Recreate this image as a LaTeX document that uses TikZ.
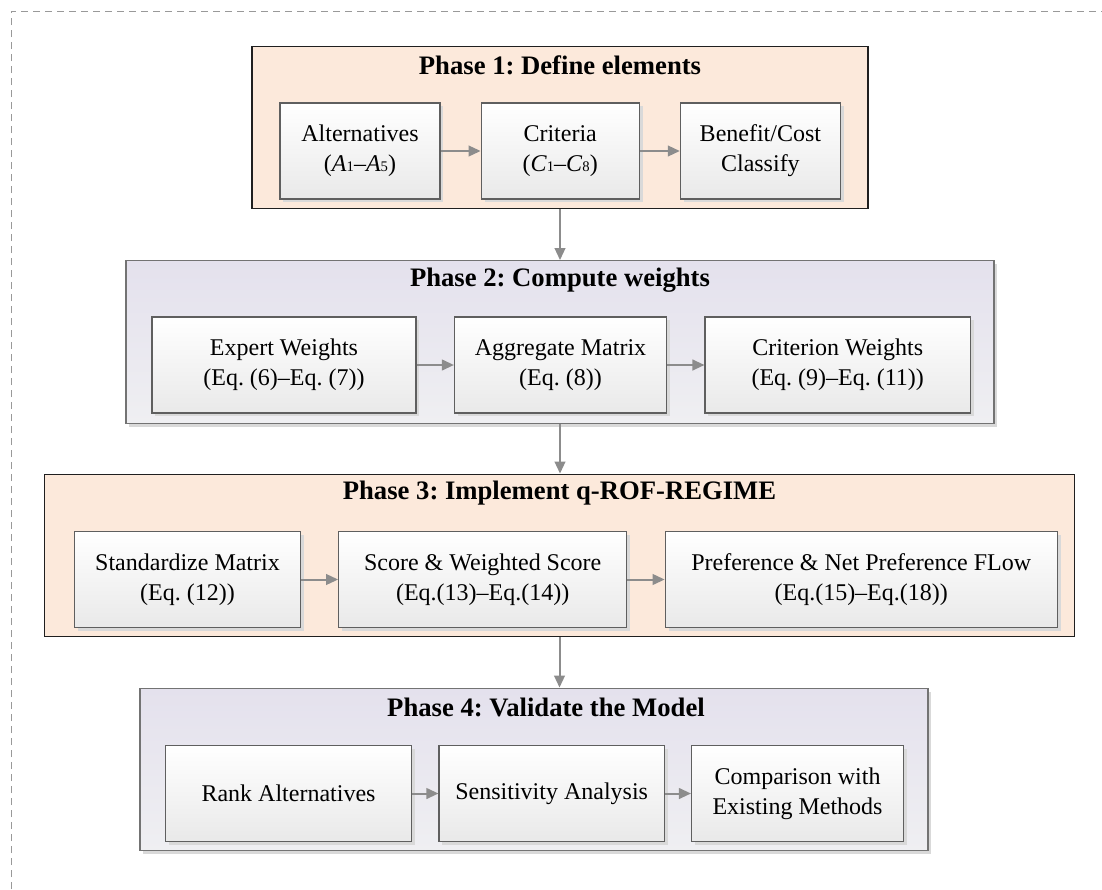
\documentclass[tikz,border=0pt]{standalone}
\usepackage{fontspec}
\setmainfont{Liberation Serif}
\usetikzlibrary{positioning,shadows,arrows.meta}
\frenchspacing

\definecolor{peach}{RGB}{252,233,219}
\definecolor{lavtop}{RGB}{228,225,237}
\definecolor{lavbot}{RGB}{239,239,242}
\definecolor{boxbot}{RGB}{233,233,233}
\definecolor{boxline}{RGB}{95,95,95}
\definecolor{shade}{RGB}{217,217,217}
\definecolor{arrowgray}{RGB}{140,140,140}
\newcommand{\idx}[1]{{\fontsize{11}{11}\selectfont #1}}

\tikzstyle{block} = [rectangle, minimum height=72pt, align=center, draw=boxline,
line width=0.9pt, top color=white, bottom color=boxbot,
drop shadow={shadow xshift=2.5pt, shadow yshift=-2.5pt, fill=shade, opacity=1},
font=\fontsize{18}{22.5}\selectfont]
\tikzstyle{phaseA} = [rectangle, minimum width=462pt, minimum height=122pt,
draw=black!88, line width=0.9pt, fill=peach]
\tikzstyle{phaseB} = [rectangle, minimum height=122pt, draw=black!55,
line width=0.9pt, top color=lavtop, bottom color=lavbot,
drop shadow={shadow xshift=2.5pt, shadow yshift=-2.5pt, fill=shade, opacity=1}]
\tikzstyle{title} = [font=\fontsize{20}{24}\selectfont\bfseries]
\tikzstyle{arrow} = [line width=1.5pt, draw=arrowgray,
-{Triangle[length=9pt,width=8pt,fill=arrowgray]}]
\tikzstyle{dashborder} = [line width=0.75pt, draw=black!40, dash pattern=on 5.5pt off 3.5pt]

\begin{document}
\begin{tikzpicture}[x=0.75pt, y=-0.75pt]
    \useasboundingbox (0,0) rectangle (1102,889);
    \draw [dashborder] (11,889) -- (11,11) -- (1102,11);
    % Phase frames
    \node (P1) [phaseA] at (560,127.5) {};
    \node (P2) [phaseB, minimum width=651pt] at (560,342) {};
    \node (P3) [phaseA, minimum width=772pt] at (559.5,555.5) {};
    \node (P4) [phaseB, minimum width=591pt] at (534,769.5) {};
    % Phase titles
    \node (T1) [title] at ([yshift=-15pt]P1.north) {Phase 1: Define elements};
    \node (T2) [title] at ([yshift=-15pt]P2.north) {Phase 2: Compute weights};
    \node (T3) [title] at ([yshift=-15pt]P3.north) {Phase 3: Implement q-ROF-REGIME};
    \node (T4) [title] at ([xshift=9pt, yshift=-15pt]P4.north) {Phase 4: Validate the Model};
    % Phase 1 blocks
    \node (ALT) [block, minimum width=120pt] at (360,151) {Alternatives\\(\textit{A}\idx{1}--\textit{A}\idx{5})};
    \node (CRIT) [block, minimum width=118.5pt, right=30pt of ALT] {Criteria\\(\textit{C}\idx{1}--\textit{C}\idx{8})};
    \node (BC) [block, minimum width=120pt, right=30pt of CRIT] {Benefit/Cost\\Classify};
    % Phase 2 blocks
    \node (EW) [block, minimum width=198pt] at (284,365) {Expert Weights\\(Eq. (6)--Eq. (7))};
    \node (AM) [block, minimum width=159pt, right=28pt of EW] {Aggregate Matrix\\(Eq. (8))};
    \node (CW) [block, minimum width=199pt, right=28pt of AM] {Criterion Weights\\(Eq. (9)--Eq. (11))};
    % Phase 3 blocks
    \node (SM) [block, minimum width=169pt] at (187.5,579.5) {Standardize Matrix\\(Eq. (12))};
    \node (SW) [block, minimum width=216pt, right=28pt of SM] {Score \& Weighted Score\\(Eq.(13)--Eq.(14))};
    \node (PF) [block, minimum width=294pt, right=28pt of SW] {Preference \& Net Preference FLow\\(Eq.(15)--Eq.(18))};
    % Phase 4 blocks
    \node (RA) [block, minimum width=185pt] at (288.5,793.5) {Rank Alternatives};
    \node (SA) [block, minimum width=169pt, right=19.5pt of RA] {Sensitivity Analysis};
    \node (CM) [block, minimum width=159pt, right=19.5pt of SA] {Comparison with\\Existing Methods};
    % Connections
    \draw [arrow] (ALT) -- (CRIT);
    \draw [arrow] (CRIT) -- (BC);
    \draw [arrow] (EW) -- (AM);
    \draw [arrow] (AM) -- (CW);
    \draw [arrow] (SM) -- (SW);
    \draw [arrow] (SW) -- (PF);
    \draw [arrow] (RA) -- (SA);
    \draw [arrow] (SA) -- (CM);
    \draw [arrow] (P1) -- (P2);
    \draw [arrow] (P2.south) -- (P2.south |- P3.north);
    \draw [arrow] (P3.south) -- (P3.south |- P4.north);
  \end{tikzpicture}
\end{document}
